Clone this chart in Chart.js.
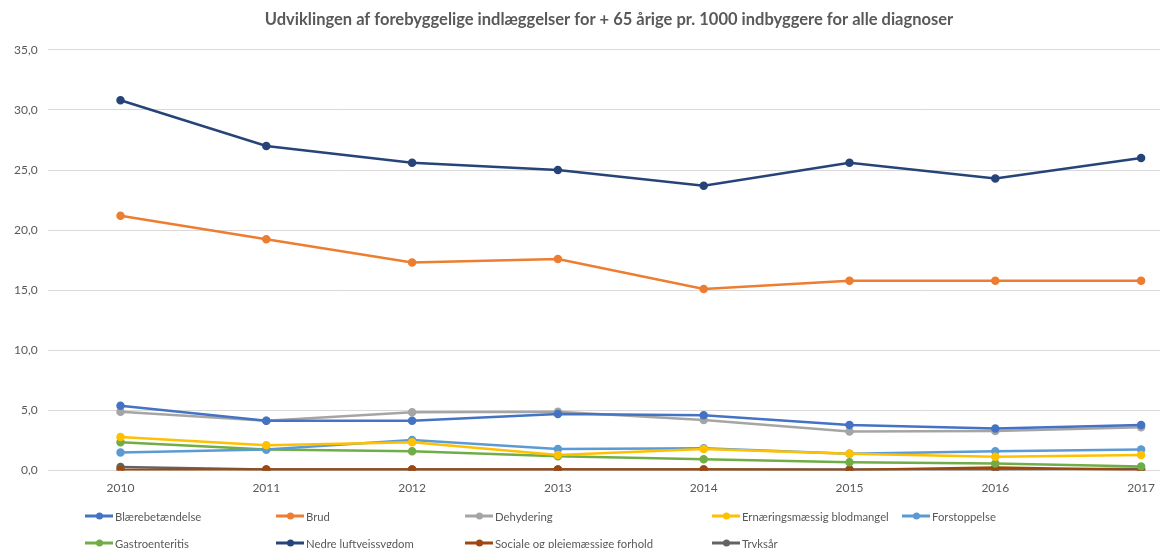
<!DOCTYPE html>
<html>
<head>
<meta charset="utf-8">
<script src="https://cdn.jsdelivr.net/npm/chart.js@4/dist/chart.umd.min.js"></script>
<style>
  html, body { margin: 0; padding: 0; background: #fff; overflow: hidden; }
  #wrap { position: relative; width: 1160px; height: 548px; overflow: hidden; }
  #legend { position: absolute; left: 0; top: 0; width: 1160px; height: 548px; pointer-events: none;
            font-family: Lato, "Open Sans", sans-serif; font-size: 11.3px; color: #595959; }
  .item { position: absolute; display: flex; align-items: center; white-space: nowrap; transform: translateY(-50%); }
  .swatch { position: relative; width: 28px; height: 3px; margin-right: 2px; }
  .swatch i { position: absolute; left: 11px; top: -2px; width: 7px; height: 7px; border-radius: 50%; }
</style>
</head>
<body>
<div id="wrap">
  <canvas id="graph" width="1220" height="548"></canvas>
  <div id="legend"></div>
</div>
<script>
const years = ['2010', '2011', '2012', '2013', '2014', '2015', '2016', '2017'];

const blaerebetaendelse = [5.4, 4.15, 4.15, 4.7, 4.6, 3.8, 3.5, 3.8];
const brud = [21.2, 19.25, 17.3, 17.6, 15.1, 15.8, 15.8, 15.8];
const dehydering = [4.9, 4.15, 4.85, 4.9, 4.2, 3.25, 3.3, 3.6];
const ernaering = [2.8, 2.1, 2.35, 1.3, 1.8, 1.4, 1.15, 1.3];
const forstoppelse = [1.5, 1.75, 2.55, 1.8, 1.85, 1.4, 1.6, 1.75];
const gastroenteritis = [2.35, 1.75, 1.6, 1.2, 0.95, 0.7, 0.6, 0.35];
const nedreLuftvej = [30.8, 27.0, 25.6, 25.0, 23.7, 25.6, 24.3, 26.0];
const socialeForhold = [0.05, 0.1, 0.1, 0.1, 0.1, 0.05, 0.25, 0.05];
const tryksaar = [0.3, 0.1, 0.1, 0.1, 0.1, 0.1, 0.1, 0.15];

const yTicks = [0, 5, 10, 15, 20, 25, 30, 35];

const series = [
  ['Blærebetændelse', blaerebetaendelse, '#4472C4'],
  ['Brud', brud, '#ED7D31'],
  ['Dehydering', dehydering, '#A5A5A5'],
  ['Ernæringsmæssig blodmangel', ernaering, '#FFC000'],
  ['Forstoppelse', forstoppelse, '#5B9BD5'],
  ['Gastroenteritis', gastroenteritis, '#70AD47'],
  ['Nedre luftvejssygdom', nedreLuftvej, '#264478'],
  ['Sociale og plejemæssige forhold', socialeForhold, '#9E480E'],
  ['Tryksår', tryksaar, '#636363']
];

// legend slots (x of line start, y of row centre), Excel style
const legendSlots = [
  [85, 516], [276, 516], [465, 516], [712, 516], [902, 516],
  [85, 543], [276, 543], [465, 543], [712, 543]
];

const font = "Lato, 'Open Sans', sans-serif";
Chart.defaults.font.family = font;
Chart.defaults.color = '#595959';

const ctx = document.getElementById('graph').getContext('2d');
const myChart = new Chart(ctx, {
  type: 'line',
  data: {
    labels: years,
    datasets: series.map(([label, data, color]) => ({
      label: label,
      data: data,
      borderColor: color,
      backgroundColor: color,
      borderWidth: 2.5,
      pointRadius: 3,
      pointHoverRadius: 3,
      tension: 0
    }))
  },
  options: {
    responsive: false,
    animation: false,
    layout: { padding: { left: 4, right: 6, top: 0, bottom: 51 } },
    plugins: {
      legend: { display: false },
      tooltip: { enabled: false },
      title: {
        display: true,
        text: 'Udviklingen af forebyggelige indlæggelser for + 65 årige pr. 1000 indbyggere for alle diagnoser',
        color: '#595959',
        font: { size: 16.5, weight: 'bold' },
        padding: { top: 10, bottom: 20 }
      }
    },
    scales: {
      x: {
        offset: true,
        grid: { display: false },
        border: { display: false },
        ticks: { font: { size: 12 }, color: '#595959', padding: 2 }
      },
      y: {
        min: 0,
        max: 35,
        afterBuildTicks: (axis) => { axis.ticks = yTicks.map(v => ({ value: v })); },
        grid: { color: '#d9d9d9', lineWidth: 1, drawTicks: false },
        border: { display: false },
        ticks: {
          font: { size: 12 },
          color: '#595959',
          padding: 10,
          callback: (v) => v.toFixed(1).replace('.', ',')
        }
      }
    }
  }
});

// HTML legend built from the chart's datasets
const legendEl = document.getElementById('legend');
myChart.data.datasets.forEach((ds, i) => {
  const [x, y] = legendSlots[i];
  const item = document.createElement('div');
  item.className = 'item';
  item.style.left = x + 'px';
  item.style.top = y + 'px';
  const sw = document.createElement('span');
  sw.className = 'swatch';
  sw.style.background = ds.borderColor;
  const dot = document.createElement('i');
  dot.style.background = ds.borderColor;
  sw.appendChild(dot);
  const txt = document.createElement('span');
  txt.textContent = ds.label;
  item.appendChild(sw);
  item.appendChild(txt);
  legendEl.appendChild(item);
});
</script>
</body>
</html>
